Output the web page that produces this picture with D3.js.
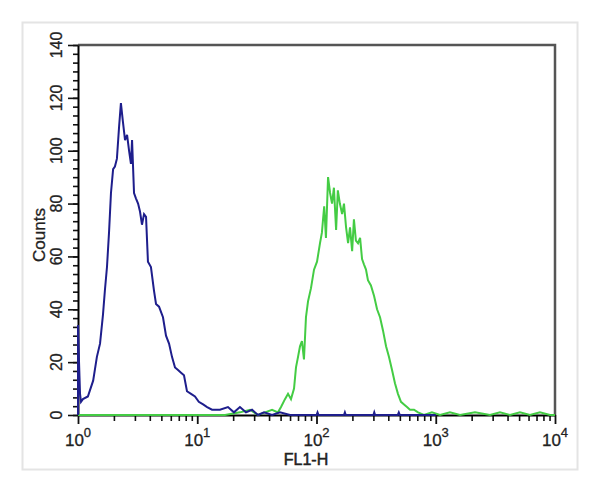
<!DOCTYPE html>
<html><head><meta charset="utf-8">
<script src="https://cdn.jsdelivr.net/npm/d3@7"></script>
<style>body{margin:0;background:#fff}svg{display:block}text{font-family:Arial,"Liberation Sans",sans-serif}</style>
</head><body>
<svg id="c" width="600" height="492"></svg>
<script>
// Blue histogram (FL1-H value, counts)
const blueX = [1,1,1.02,1.04,1.06,1.10,1.21,1.34,1.44,1.53,1.62,1.68,1.75,1.82,1.89,1.97,2.04,2.12,2.21,2.29,2.38,2.48,2.58,2.68,2.78,2.84,2.95,3.06,3.19,3.31,3.44,3.58,3.72,3.86,4.09,4.34,4.51,4.78,5.16,5.47,5.80,6.14,6.51,6.90,7.31,7.74,8.20,8.87,9.57,10.3,11.2,12.1,13.3,15.5,18.1,20.3,22.8,25.6,28.8,32.3,36.3,42.4,49.4,60,100,102,104,170,173,176,300,305,310,480,490,500,1000];
const blueY = [0,34,20,8,5,6,7,13,22,27,38,47,56,69,84,93,94,97,109,118,111,104,106,100,95,104,84,82,80,77,72,76,75,58,56,47,42,41,37,30,27,22,18,17,16,15,9,8,7,5,4,3,2,2,3,1,3,1,2,0,1,0,1,0,0,1,0,0,1,0,0,1,0,0,1,0,0];
// Green histogram
const greenX = [1,17.1,22.8,27.7,32.3,37,42.4,47.5,50.4,54.4,57.7,61.1,64.8,67.3,70,72.7,75.5,78.5,81.6,84.9,89.9,95.3,101,107,111,116,120,125,130,135,140,146,151,157,164,170,177,184,191,199,206,214,223,232,241,250,260,270,286,304,322,341,361,383,405,430,455,482,511,542,574,608,657,710,796,929,1086,1316,1597,2133,2851,3457,4195,5087,6166,7480,9080,10000];
const greenY = [0,0,1,2,0,1,2,1,3,6,8,6,10,18,22,26,28,21,37,43,48,55,58,65,69,79,67,90,84,80,86,70,85,80,76,80,71,65,71,62,74,66,65,67,59,57,55,51,49,45,40,37,32,26,22,17,12,8,5,4,3,2,2,1,0,1,0,1,0,1,0,1,0,1,0,1,0,0];
// Axis tick labels
const yTicks = [0,20,40,60,80,100,120,140];
const xDecades = [1,10,100,1000,10000];
const xExponents = ["0","1","2","3","4"];
const xLabel = "FL1-H";
const yLabel = "Counts";

const svg = d3.select("#c");
const L=78, R=555, T=45, B=415;
const x = d3.scaleLog().domain([1,10000]).range([L,R]);
const y = d3.scaleLinear().domain([0,140]).range([B,T]);

svg.append("rect").attr("x",22.5).attr("y",22.5).attr("width",555).attr("height",447)
  .attr("fill","#fff").attr("stroke","#e4e4e4").attr("stroke-width",2);

svg.append("path").attr("d",`M${L},${T}H${R}V${B}`).attr("fill","none").attr("stroke","#555").attr("stroke-width",2.5);

const yMinor = d3.range(0,140.001,20/6);
svg.append("g").attr("transform",`translate(${L},0)`)
  .call(d3.axisLeft(y).tickValues(yMinor).tickSize(5).tickFormat("").tickSizeOuter(0))
  .call(g=>g.selectAll("line").attr("stroke","#111").attr("stroke-width",1.6))
  .call(g=>g.select(".domain").remove());
svg.append("g").attr("transform",`translate(${L},0)`)
  .call(d3.axisLeft(y).tickValues(yTicks).tickSize(10).tickFormat("").tickSizeOuter(0))
  .call(g=>g.selectAll("line").attr("stroke","#111").attr("stroke-width",1.6))
  .call(g=>g.select(".domain").attr("stroke","#000").attr("stroke-width",2));

svg.append("g").selectAll("text").data(yTicks).join("text")
  .attr("transform",d=>`translate(62,${y(d)}) rotate(-90)`)
  .attr("text-anchor","middle").attr("font-size",16).attr("fill","#222")
  .attr("stroke","#222").attr("stroke-width",0.3)
  .text(d=>d);

const xMinor = x.ticks().filter(v=>xDecades.indexOf(v)<0);
svg.append("g").attr("transform",`translate(0,${B})`)
  .call(d3.axisBottom(x).tickValues(xMinor).tickSize(6).tickFormat("").tickSizeOuter(0))
  .call(g=>g.selectAll("line").attr("stroke","#111").attr("stroke-width",1.6))
  .call(g=>g.select(".domain").remove());
svg.append("g").attr("transform",`translate(0,${B})`)
  .call(d3.axisBottom(x).tickValues(xDecades).tickSize(9).tickFormat("").tickSizeOuter(0))
  .call(g=>g.selectAll("line").attr("stroke","#111").attr("stroke-width",1.8))
  .call(g=>g.select(".domain").attr("stroke","#000").attr("stroke-width",2));

const xl = svg.append("g").selectAll("text").data(xDecades).join("text")
  .attr("x",d=>x(d)).attr("y",446).attr("text-anchor","middle").attr("fill","#222")
  .attr("stroke","#222").attr("stroke-width",0.3).attr("font-size",17);
xl.append("tspan").text("10");
xl.append("tspan").attr("font-size",13).attr("dy",-9).text((d,i)=>xExponents[i]);

svg.append("text").attr("x",306).attr("y",465).attr("text-anchor","middle").attr("font-size",16)
  .attr("fill","#222").attr("stroke","#222").attr("stroke-width",0.5).text(xLabel);
svg.append("text").attr("transform","translate(45,235) rotate(-90)").attr("text-anchor","middle")
  .attr("font-size",17).attr("fill","#222").attr("stroke","#222").attr("stroke-width",0.3).text(yLabel);

const line = d3.line().x(d=>x(d[0])).y(d=>y(d[1])).curve(d3.curveLinear);
svg.append("path").datum(greenX.map((v,i)=>[v,greenY[i]])).attr("d",line)
  .attr("fill","none").attr("stroke","#44cc44").attr("stroke-width",2);
svg.append("path").datum(blueX.map((v,i)=>[v,blueY[i]])).attr("d",line)
  .attr("fill","none").attr("stroke","#1e1e8c").attr("stroke-width",2);
</script>
</body></html>
